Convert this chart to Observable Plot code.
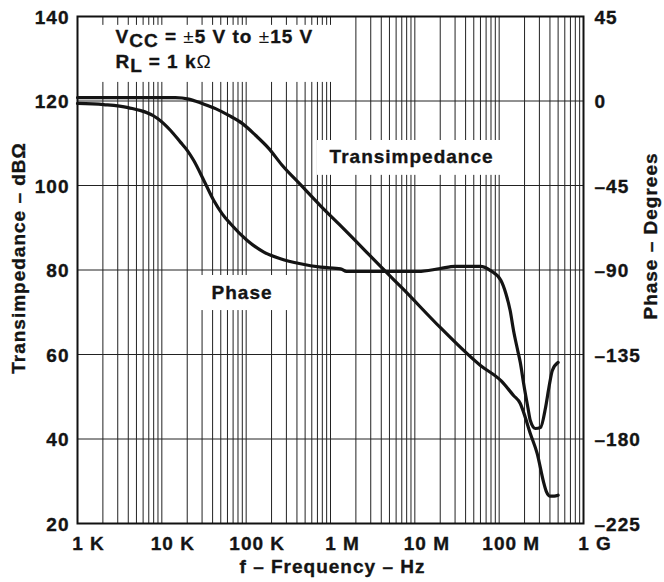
<!DOCTYPE html>
<html><head><meta charset="utf-8">
<script src="https://cdn.jsdelivr.net/npm/d3@7"></script>
<script src="https://cdn.jsdelivr.net/npm/@observablehq/plot@0.6"></script>
<style>
body{margin:0;background:#fff;}
#chart svg{font-family:"Liberation Sans",Arial,Helvetica,sans-serif;font-weight:bold;letter-spacing:1px;background:#fff;}
</style></head><body><div id="chart"></div>
<script>
// Transimpedance (dBΩ) vs frequency (Hz)
const transFreq = [1000, 3200, 10000, 14500, 20900, 30100, 43300, 62200, 89700, 129000, 185000, 267000, 441000, 762000, 1.315e6, 4.74e6, 7.1e6, 2.0e7, 6.0e7, 1.05e8, 1.48e8, 1.78e8, 1.95e8, 2.34e8, 2.82e8, 3.39e8, 3.65e8, 3.98e8, 4.5e8, 5.0e8];
const transDb   = [120.8, 120.8, 120.8, 120.8, 120.45, 119.4, 118.2, 116.6, 114.7, 111.9, 108.8, 104.8, 100.2, 95.2, 90.5, 79.2, 75.7, 66.4, 57.4, 53.8, 50.3, 48.4, 46.3, 41.3, 36.6, 29.5, 27.4, 26.5, 26.5, 26.7];

// Phase (degrees) vs frequency (Hz)
const phaseFreq = [1000, 2040, 3980, 8900, 12700, 16600, 20100, 23900, 31500, 41300, 52000, 65200, 103000, 162000, 255000, 441000, 762000, 1.32e6, 1.55e6, 1.1e7, 2.0e7, 3.0e7, 6.0e7, 7.9e7, 1.05e8, 1.2e8, 1.35e8, 1.48e8, 1.66e8, 1.78e8, 1.95e8, 2.19e8, 2.34e8, 2.69e8, 3.09e8, 3.55e8, 3.89e8, 4.27e8, 5.0e8];
const phaseDeg  = [-1.3, -1.9, -3.5, -9.3, -15.7, -21.9, -26.4, -31.7, -42.3, -53.0, -60.1, -65.4, -74.3, -80.5, -84.0, -86.7, -88.5, -89.4, -90.8, -90.8, -89.2, -88.1, -88.1, -90.3, -95.6, -102.5, -111.6, -122.2, -132.9, -139.2, -150.4, -163.2, -170.1, -174.4, -173.9, -163.2, -152.6, -143.5, -139.2];

// Axis ticks and labels
const xTickValues  = [1e3, 1e4, 1e5, 1e6, 1e7, 1e8, 1e9];
const xTickNumbers = ["1", "10", "100", "1", "10", "100", "1"];
const xTickUnits   = ["K", "K", "K", "M", "M", "M", "G"];
const yTicksDb     = [20, 40, 60, 80, 100, 120, 140];
const yTickLabels  = ["20", "40", "60", "80", "100", "120", "140"];
const phaseTickLabels = ["–225", "–180", "–135", "–90", "–45", "0", "45"];
const gridDecades  = [1e3, 1e4, 1e5, 1e6, 1e7, 1e8];
const gridMultipliers = [1, 2, 3, 4, 5, 6, 7, 8, 9];

// Annotations (data coordinates)
const condText = ["VCC = ±5 V to ±15 V", "RL = 1 kΩ"];
const condFreq = [2820, 2820];
const condDb   = [135.1, 129.2];
const labelText = ["Transimpedance", "Phase"];
const labelFreq = [9.15e6, 8.93e4];
const labelDb   = [106.7, 74.6];
const boxX1 = [1630, 7.0e5, 2.31e4];
const boxX2 = [1.51e6, 1.56e8, 3.55e5];
const boxY1 = [124.4, 102.4, 70.4];
const boxY2 = [137.9, 110.65, 78.7];

// secondary axis mapping: phase 0° ↔ 120 dB, 45° per 20 dB
const phaseToDb = p => 120 + p * 20 / 45;

const trans = transFreq.map((f, i) => ({f, v: transDb[i]}));
const phase = phaseFreq.map((f, i) => ({f, v: phaseToDb(phaseDeg[i])}));
const gridX = gridDecades.flatMap(d => gridMultipliers.map(m => d * m)).concat([1e9]);
const xTicks = xTickValues.map((v, i) => ({v, num: xTickNumbers[i], label: xTickNumbers[i] + " " + xTickUnits[i]}));
const yTicks = yTicksDb.map((v, i) => ({v, left: yTickLabels[i], right: phaseTickLabels[i]}));
const conds = condText.map((t, i) => ({t, f: condFreq[i], v: condDb[i]}));
const labels = labelText.map((t, i) => ({t, f: labelFreq[i], v: labelDb[i]}));
const boxes = boxX1.map((x1, i) => ({x1, x2: boxX2[i], y1: boxY1[i], y2: boxY2[i]}));

const FS = 19;
const INK = "#141414";
const txt = {fontSize: FS, fill: INK, stroke: INK, strokeWidth: 0.35};
const glyph = 0.556 * FS; // digit advance
const numDx = n => -(n * glyph + (n - 1) * 1) / 2;

const plot = Plot.plot({
  width: 664, height: 582,
  marginLeft: 77, marginRight: 81, marginTop: 16, marginBottom: 59,
  x: {type: "log", domain: [1e3, 1e9], axis: null},
  y: {domain: [20, 140], axis: null},
  marks: [
    Plot.ruleX(gridX, {x: d => d, stroke: "#222", strokeWidth: 1}),
    Plot.ruleY(yTicksDb, {y: d => d, stroke: "#222", strokeWidth: 1}),
    Plot.rect(boxes, {x1: "x1", x2: "x2", y1: "y1", y2: "y2", fill: "white"}),
    Plot.frame({stroke: "#111", strokeWidth: 2}),
    Plot.line(trans, {x: "f", y: "v", stroke: INK, strokeWidth: 3.2, curve: "monotone-x"}),
    Plot.line(phase, {x: "f", y: "v", stroke: INK, strokeWidth: 3.2, curve: "monotone-x"}),
    ...[1, 2, 3].map(n => Plot.text(xTicks.filter(d => d.num.length === n), {
      x: "v", frameAnchor: "bottom", text: "label", textAnchor: "start",
      dx: numDx(n), dy: 26, ...txt})),
    Plot.text(yTicks, {y: "v", frameAnchor: "left", text: "left", textAnchor: "end", dx: -8, dy: 1, ...txt}),
    Plot.text(yTicks, {y: "v", frameAnchor: "right", text: "right", textAnchor: "start", dx: 11, dy: 1, ...txt}),
    Plot.text(conds, {x: "f", y: "v", text: "t", textAnchor: "start", ...txt}),
    Plot.text(labels, {x: "f", y: "v", text: "t", textAnchor: "middle", ...txt}),
    Plot.text(["Transimpedance – dBΩ"], {frameAnchor: "left", text: d => d, textAnchor: "middle", rotate: -90, dx: -59, dy: -12, ...txt}),
    Plot.text(["Phase – Degrees"], {frameAnchor: "right", text: d => d, textAnchor: "middle", rotate: -90, dx: 67, dy: -34, ...txt}),
    Plot.text(["f – Frequency – Hz"], {frameAnchor: "bottom", text: d => d, textAnchor: "middle", dx: 2, dy: 49, ...txt})
  ]
});

document.getElementById("chart").appendChild(plot);

function rich(el, parts) {
  while (el.firstChild) el.removeChild(el.firstChild);
  const ns = "http://www.w3.org/2000/svg";
  let shift = 0;
  for (const p of parts) {
    const ts = document.createElementNS(ns, "tspan");
    const target = p.sub ? 4 : 0;
    if (target !== shift) { ts.setAttribute("dy", target - shift); shift = target; }
    if (p.normal) { ts.setAttribute("font-weight", "normal"); ts.setAttribute("stroke-width", "0"); }
    ts.textContent = p.t;
    el.appendChild(ts);
  }
}
plot.querySelectorAll("text").forEach(el => {
  const t = el.textContent;
  if (t === condText[0]) {
    rich(el, [{t: "V"}, {t: "CC", sub: true}, {t: " = "}, {t: "±", normal: true}, {t: "5 V to "}, {t: "±", normal: true}, {t: "15 V"}]);
  } else if (t === condText[1]) {
    rich(el, [{t: "R"}, {t: "L", sub: true}, {t: " = 1 k"}, {t: "Ω", normal: true}]);
  }
});
</script></body></html>
